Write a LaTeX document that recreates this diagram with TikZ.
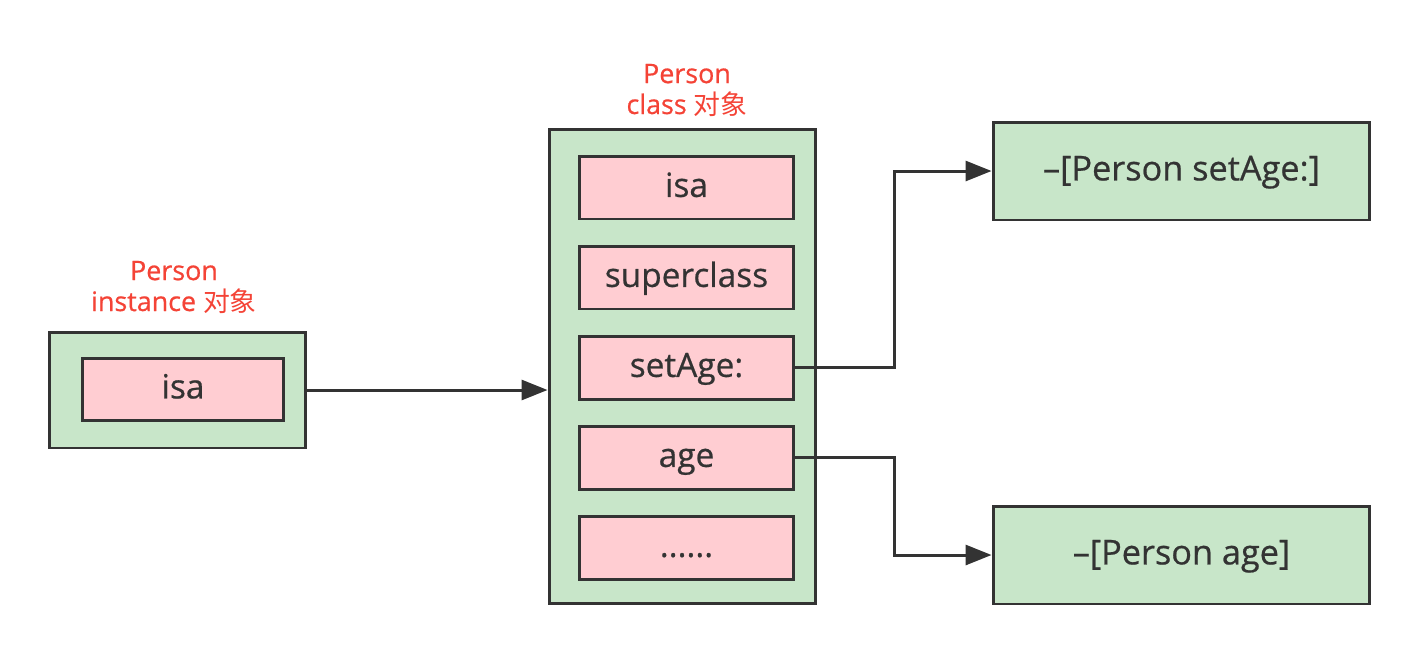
\documentclass[tikz,border=0pt]{standalone}
\usepackage{fontspec}
\setmainfont{Open Sans}[FakeBold=0.6]
\newfontfamily\cjk{Noto Sans CJK SC}
\usetikzlibrary{positioning, arrows.meta}
\definecolor{verdebox}{HTML}{C8E6C9}
\definecolor{rosaslot}{HTML}{FFCDD2}
\definecolor{bordo}{HTML}{333333}
\definecolor{rossotit}{HTML}{F44336}
\tikzset{
	>={Triangle[length=5.2mm, width=4mm]},
	% contenitore (oggetto)
	oggetto/.style={draw=bordo, line width=1.7pt, rectangle, fill=verdebox, inner sep=0pt},
	% campo dentro l'oggetto
	campo/.style={draw=bordo, line width=1.7pt, rectangle, fill=rosaslot, minimum width=4.3cm,
	              minimum height=1.26cm, inner sep=0pt, font=\fontsize{19}{22}\selectfont, text=bordo,
	              text height=2.3ex, text depth=0.3ex},
	% metodo
	metodo/.style={oggetto, minimum width=7.54cm, minimum height=1.96cm,
	               font=\fontsize{19.5}{22}\selectfont, text=bordo, text height=2.3ex, text depth=0.3ex},
	% titolo rosso
	titolo/.style={align=center, text=rossotit, font=\fontsize{15.3}{17.6}\selectfont},
	% freccia
	freccia/.style={->, draw=bordo, line width=1.7pt},
}
\begin{document}
\begin{tikzpicture}[x=0.02cm, y=-0.02cm]
    \useasboundingbox (0,0) rectangle (1420,654);
    % ---------------- istanza ----------------
    \node[titolo] (titinst) at (174,287) {Person\\instance {\cjk 对象}};
    \node[oggetto, minimum width=5.14cm, minimum height=2.32cm] (inst) at (177.5,390) {};
    \node[campo, minimum width=4.04cm, minimum height=1.24cm] (instisa) at (183,389) {isa};

    % ---------------- classe ----------------
    \node[titolo] (titcls) at (687,90) {Person\\class {\cjk 对象}};
    \node[oggetto, minimum width=5.34cm, minimum height=9.5cm] (cls) at (682.5,366.5) {};
    \node[campo] (c1) at (686.5,187.5) {isa};
    \node[campo] (c2) at (686.5,277.5) {superclass};
    \node[campo] (c3) at (686.5,367.5) {setAge:};
    \node[campo] (c4) at (686.5,457.5) {age};
    \node[campo] (c5) at (686.5,547.5) {......};

    % ---------------- metodi ----------------
    \node[metodo] (m1) at (1181.5,171) {--[Person setAge:]};
    \node[metodo] (m2) at (1181.5,555) {--[Person age]};

    % ---------------- collegamenti ----------------
    \draw[freccia] (inst.east) -- (inst.east -| cls.west);
    \draw[freccia] (c3.east) -- ++(99,0) |- (m1.west);
    \draw[freccia] (c4.east) -- ++(99,0) |- (m2.west);
\end{tikzpicture}
\end{document}
